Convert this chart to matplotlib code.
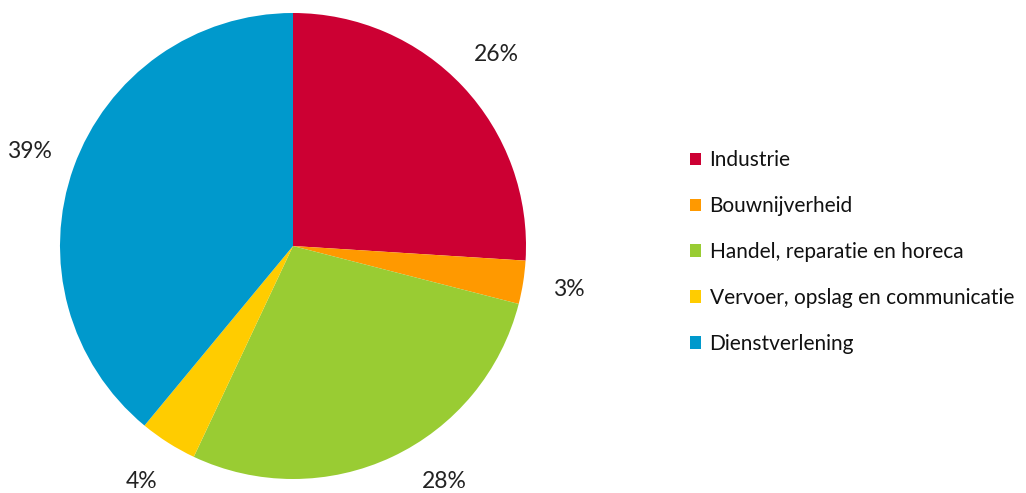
import numpy as np
import matplotlib
matplotlib.use("Agg")
import matplotlib.pyplot as plt

# sector shares (percent), clockwise from 12 o'clock
sectors = [
    "Industrie",
    "Bouwnijverheid",
    "Handel, reparatie en horeca",
    "Vervoer, opslag en communicatie",
    "Dienstverlening",
]
shares = [26, 3, 28, 4, 39]
colors = ["#CC0033", "#FF9900", "#99CC33", "#FFCC00", "#0099CC"]

W, H = 1026, 493
cx, cy, rad = 293, 246, 233  # pie centre / radius in pixels

plt.rcParams["font.family"] = ["Lato", "DejaVu Sans"]

fig = plt.figure(figsize=(W / 100, H / 100), dpi=100)
ax = fig.add_axes([0, 0, 1, 1])

wedges, _ = ax.pie(
    shares,
    colors=colors,
    startangle=90,
    counterclock=False,
    radius=1.0,
    wedgeprops={"linewidth": 0},
)

# percentage labels just outside the pie, kept inside the frame
lab_r = 1.2
y_floor = -(H - cy - 12) / rad
for w, v in zip(wedges, shares):
    mid = np.deg2rad((w.theta1 + w.theta2) / 2)
    x, y = lab_r * np.cos(mid), lab_r * np.sin(mid)
    if y < y_floor:
        y = y_floor
        x = np.sign(x) * np.sqrt(lab_r**2 - y**2)
    ax.text(x, y, f"{v}%", ha="center", va="center", fontsize=16.5, color="#222222")

ax.set_xlim(-cx / rad, (W - cx) / rad)
ax.set_ylim(-(H - cy) / rad, cy / rad)
ax.set_aspect("auto")
ax.axis("off")

leg = ax.legend(
    wedges,
    sectors,
    loc="center left",
    bbox_to_anchor=(671 / W, 1 - 252 / H),
    bbox_transform=fig.transFigure,
    frameon=False,
    fontsize=15,
    handlelength=0.55,
    handleheight=0.55,
    handletextpad=0.4,
    labelspacing=1.24,
)
for t in leg.get_texts():
    t.set_color("#111111")

fig.savefig("out.png", dpi=100)
